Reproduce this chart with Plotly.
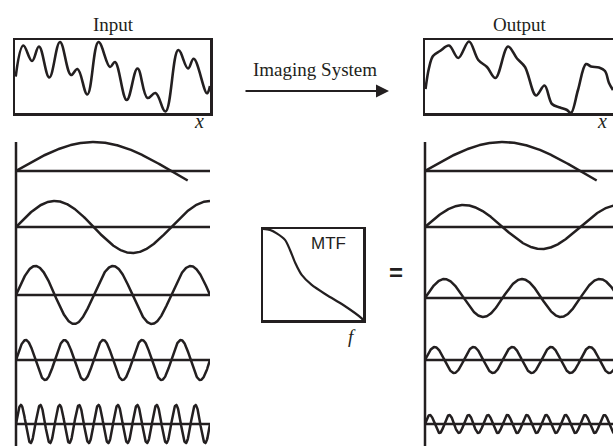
import numpy as np
import plotly.graph_objects as go

W, H = 613, 446

# ---------------- data ----------------
# Input signal (position along x, intensity)
input_pos = [0.7, 8.3, 17, 24, 34.3, 45, 56, 62.5, 72.3, 83.5, 95, 100, 111.7, 122.5,
             132.5, 140.5, 150.5, 163.3, 173, 178.7, 192, 195]
input_val = [36.3, 67.5, 52, 66.5, 35.5, 71, 38, 44, 18.5, 71, 46, 51, 13, 44.5,
             15, 20, 1.5, 63, 44.5, 54.2, 19.7, 27]

# Output signal (blurred)
output_pos = [0.5, 4, 8, 15, 24, 33.3, 44, 53.3, 62, 70.5, 83, 92, 100, 111, 119.5,
              127, 135, 142, 146, 153, 161, 166, 174, 180, 184, 188]
output_val = [24, 45, 57, 62, 67.5, 55, 71.5, 53, 46, 35, 66.5, 54.5, 46, 17.5, 27.5,
              9, 5.5, 3, 0, 23, 49, 46.5, 45.5, 42, 30, 23]

# MTF curve (normalised frequency, modulation transfer)
mtf_freq = [0.0, 0.07, 0.137, 0.22, 0.27, 0.323, 0.387, 0.487, 0.637, 0.803, 0.987, 1.0]
mtf_value = [1.0, 0.99, 0.952, 0.88, 0.77, 0.626, 0.495, 0.385, 0.275, 0.165, 0.018, 0.0]

# Sinusoidal components (cycles across panel width, drawn extent, amplitudes)
comp_cycles = [0.625, 1.25, 2.5, 5, 10]
comp_extent = [0.885, 1.0, 1.0, 1.0, 1.0]
input_amp = [29, 26, 29, 20, 19]
output_amp = [29, 22, 19, 13, 9]

# ---------------- layout constants ----------------
INK = "#231f20"
left_base = [171, 227, 295, 360, 424]
right_base = [171, 227, 298, 360, 424]


def px(x):
    return x / W


def py(y):
    return 1 - y / H


fig = go.Figure()

# input signal
fig.add_trace(go.Scatter(x=input_pos, y=input_val, mode="lines",
                         line=dict(color=INK, width=2.6, shape="spline", smoothing=1.1),
                         xaxis="x", yaxis="y", hoverinfo="skip"))
# output signal
fig.add_trace(go.Scatter(x=output_pos, y=output_val, mode="lines",
                         line=dict(color=INK, width=2.6, shape="spline", smoothing=1.0),
                         xaxis="x2", yaxis="y2", hoverinfo="skip"))

# sine components
for stack, bases, amps in (("3", left_base, input_amp), ("4", right_base, output_amp)):
    for cyc, ext, amp, b in zip(comp_cycles, comp_extent, amps, bases):
        xs = np.linspace(0, ext, 600)
        ys = b - amp * np.sin(2 * np.pi * cyc * xs)
        fig.add_trace(go.Scatter(x=xs, y=ys, mode="lines",
                                 line=dict(color=INK, width=2.5),
                                 xaxis="x" + stack, yaxis="y" + stack, hoverinfo="skip"))
        fig.add_trace(go.Scatter(x=[0, 1], y=[b, b], mode="lines",
                                 line=dict(color=INK, width=2.5),
                                 xaxis="x" + stack, yaxis="y" + stack, hoverinfo="skip"))

# MTF curve
fig.add_trace(go.Scatter(x=mtf_freq, y=mtf_value, mode="lines",
                         line=dict(color=INK, width=2.2, shape="spline", smoothing=0.8),
                         xaxis="x5", yaxis="y5", hoverinfo="skip"))

hidden = dict(visible=False, showgrid=False, zeroline=False)
boxed = dict(showline=True, linecolor=INK, linewidth=2.5, mirror=True, showgrid=False,
             zeroline=False, showticklabels=False, ticks="")

fig.update_layout(
    width=W, height=H, margin=dict(l=0, r=0, t=0, b=0),
    paper_bgcolor="white", plot_bgcolor="rgba(0,0,0,0)", showlegend=False,
    xaxis=dict(domain=[px(15), px(210)], range=[0, 195], **boxed),
    yaxis=dict(domain=[py(113), py(40)], range=[0, 73], **boxed),
    xaxis2=dict(domain=[px(425), 1], range=[0, 188], anchor="y2", **boxed),
    yaxis2=dict(domain=[py(113), py(40)], range=[0, 73], anchor="x2",
                showline=True, linecolor=INK, linewidth=2.5, mirror=False,
                showgrid=False, zeroline=False, showticklabels=False, ticks=""),
    xaxis3=dict(domain=[px(16), px(210)], range=[0, 1], anchor="y3", **hidden),
    yaxis3=dict(domain=[0, py(136)], range=[446, 136], anchor="x3", **hidden),
    xaxis4=dict(domain=[px(425), 1], range=[0, (613 - 425) / 194], anchor="y4", **hidden),
    yaxis4=dict(domain=[0, py(136)], range=[446, 136], anchor="x4", **hidden),
    xaxis5=dict(domain=[px(263), px(363)], range=[0, 1], anchor="y5", **boxed),
    yaxis5=dict(domain=[py(320), py(229)], range=[0, 1], anchor="x5", **boxed),
)

# vertical axes of the component stacks
for vx in (16, 425):
    fig.add_shape(type="line", xref="paper", yref="paper", x0=px(vx), x1=px(vx),
                  y0=py(142), y1=0, line=dict(color=INK, width=2.5))

serif = "Liberation Serif, Times New Roman, serif"
sans = "Liberation Sans, Arial, sans-serif"


def label(text, x, y, size, family, **kw):
    fig.add_annotation(text=text, x=px(x), y=py(y), xref="paper", yref="paper",
                       showarrow=False, xanchor="center", yanchor="middle",
                       font=dict(size=size, family=family, color=INK), **kw)


label("Input", 113, 24, 19, serif)
label("Output", 520, 24, 19, serif)
label("Imaging System", 315, 69, 19, serif)
label("<i>x</i>", 199, 121, 20, serif)
label("<i>x</i>", 602, 121, 20, serif)
label("MTF", 328, 243, 17, sans)
label("<i>f</i>", 352, 336, 19, serif)
label("<b>=</b>", 396, 272, 24, sans)

# arrow
fig.add_annotation(x=px(389), y=py(91), xref="paper", yref="paper",
                   ax=-145, ay=0, axref="pixel", ayref="pixel", text="",
                   showarrow=True, arrowhead=2, arrowsize=1.3, arrowwidth=2,
                   arrowcolor=INK)

fig.write_html("out.html",
               config={"displayModeBar": False, "staticPlot": True},
               post_script="document.body.style.margin='0';"
                           "document.body.style.padding='0';"
                           "document.body.style.overflow='hidden';")
